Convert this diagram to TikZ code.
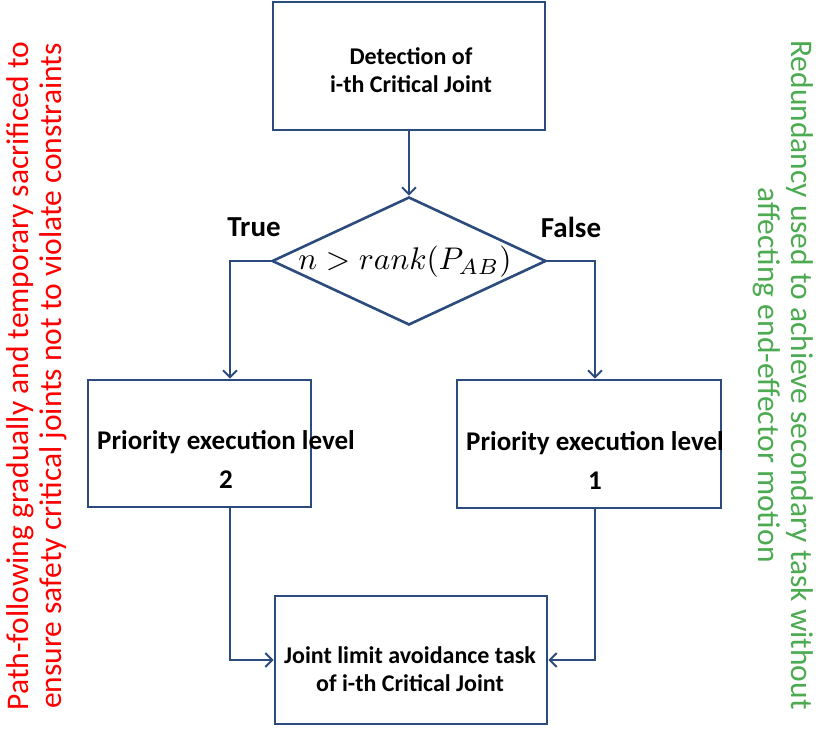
\documentclass[tikz,border=0pt]{standalone}
\usepackage{fontspec}
\setmainfont{Carlito}
\usetikzlibrary{arrows.meta,shapes.geometric,calc}
\definecolor{lineblue}{HTML}{2A4B7C}
\definecolor{sidegreen}{HTML}{4CAA50}
\definecolor{sidered}{HTML}{FF0000}
\tikzset{
  box/.style={draw=lineblue, line width=2.6pt, rectangle, inner sep=0pt},
  boxtxt/.style={font=\fontsize{24}{28}\selectfont\bfseries, align=center, inner sep=0pt},
  lvltxt/.style={font=\fontsize{27}{39}\selectfont\bfseries, align=center, inner sep=0pt},
  conn/.style={draw=lineblue, line width=2pt, -{Straight Barb[length=7pt,width=14pt,line width=2pt]}},
  sidetxt/.style={font=\fontsize{31.5}{33}\selectfont, align=center, inner sep=0pt},
  branchtxt/.style={font=\fontsize{29}{32}\selectfont\bfseries, inner sep=0pt}
}
\begin{document}
\begin{tikzpicture}[x=1pt,y=-1pt]
\useasboundingbox (0,0) rectangle (819,729);
% boxes
\node[box, minimum width=272pt, minimum height=128pt] (detect) at (409,66) {};
\node[boxtxt] (detecttxt) at (411,70) {Detection of\\i-th Critical Joint};
\node[draw=lineblue, line width=2.6pt, diamond, minimum width=274pt, minimum height=128pt, inner sep=0pt] (dec) at (409,261) {};
\node[inner sep=0pt] (dectxt) at (405,262) {\resizebox{213pt}{!}{$n > rank(P_{AB})$}};
\node[box, minimum width=223pt, minimum height=127pt] (lvl2) at (199.5,443.5) {};
\node[lvltxt] (lvl2txt) at (226,459) {Priority execution level\\2};
\node[box, minimum width=264pt, minimum height=128pt] (lvl1) at (589,444) {};
\node[lvltxt] (lvl1txt) at (595,460) {Priority execution level\\1};
\node[box, minimum width=272pt, minimum height=128pt] (joint) at (411,660) {};
\node[boxtxt] (jointtxt) at (410,669) {Joint limit avoidance task\\of i-th Critical Joint};
% branch labels
\node[branchtxt] (truel) at (254,227) {True};
\node[branchtxt] (falsel) at (571,227) {False};
% connectors
\draw[conn] (detect.south) -- (dec.north);
\draw[conn] (dec.west) -| (lvl2.north -| 230,0);
\draw[conn] (dec.east) -| (lvl1.north -| 595,0);
\draw[conn] (lvl2.south -| 230,0) |- (joint.west);
\draw[conn] (lvl1.south -| 595,0) |- (joint.east);
% side texts
\node[sidetxt, text=sidered, rotate=90] (leftnote) at (36.5,376) {Path-following gradually and temporary sacrificed to\\ensure safety critical joints not to violate constraints};
\node[sidetxt, text=sidegreen, rotate=-90] (rightnote) at (783,375) {Redundancy used to achieve secondary task without\\affecting end-effector motion};
\end{tikzpicture}
\end{document}
